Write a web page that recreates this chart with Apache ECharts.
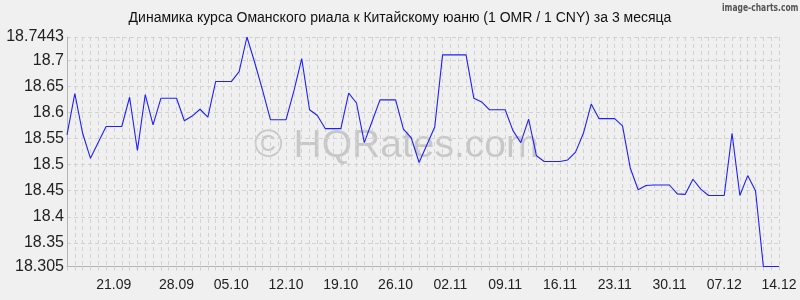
<!DOCTYPE html>
<html><head><meta charset="utf-8">
<script src="https://cdn.jsdelivr.net/npm/echarts@6/dist/echarts.min.js"></script>
<style>html,body{margin:0;padding:0;background:#f0f0f0}#c{width:800px;height:300px}</style>
</head><body><div id="c"></div>
<script>
var title = 'Динамика курса Оманского риала к Китайскому юаню (1 OMR / 1 CNY) за 3 месяца';
var dates = ['14.09','15.09','16.09','17.09','18.09','19.09','20.09','21.09','22.09','23.09','24.09','25.09','26.09','27.09','28.09','29.09','30.09',
'01.10','02.10','03.10','04.10','05.10','06.10','07.10','08.10','09.10','10.10','11.10','12.10','13.10','14.10','15.10','16.10','17.10','18.10','19.10','20.10','21.10','22.10','23.10','24.10','25.10','26.10','27.10','28.10','29.10','30.10','31.10',
'01.11','02.11','03.11','04.11','05.11','06.11','07.11','08.11','09.11','10.11','11.11','12.11','13.11','14.11','15.11','16.11','17.11','18.11','19.11','20.11','21.11','22.11','23.11','24.11','25.11','26.11','27.11','28.11','29.11','30.11',
'01.12','02.12','03.12','04.12','05.12','06.12','07.12','08.12','09.12','10.12','11.12','12.12','13.12','14.12'];
var rates = [18.557,18.636,18.560,18.512,18.543,18.573,18.573,18.573,18.629,18.527,18.634,18.576,18.627,18.627,18.627,18.584,18.593,18.606,18.591,18.659,18.659,18.659,18.678,18.7443,18.695,18.642,18.586,18.586,18.586,18.641,18.703,18.605,18.594,18.569,18.569,18.569,18.637,18.618,18.542,18.583,18.624,18.624,18.624,18.568,18.551,18.504,18.538,18.572,18.710,18.710,18.710,18.710,18.627,18.620,18.605,18.605,18.605,18.565,18.542,18.587,18.517,18.506,18.506,18.506,18.509,18.524,18.560,18.616,18.588,18.588,18.588,18.574,18.493,18.452,18.460,18.461,18.461,18.461,18.444,18.443,18.472,18.453,18.441,18.441,18.441,18.560,18.441,18.479,18.450,18.305,18.305,18.305];
var yTicks = [18.305,18.35,18.4,18.45,18.5,18.55,18.6,18.65,18.7,18.7443];
var xLabelEvery = 7;

var chart = echarts.init(document.getElementById('c'));
chart.setOption({
  backgroundColor:'#f0f0f0',
  animation:false,
  title:{text:title,left:'center',top:11,itemGap:0,padding:0,
    textStyle:{fontFamily:'Liberation Sans',fontSize:14,fontWeight:'normal',color:'#111'}},
  graphic:[
    {type:'text',left:254,top:127,silent:true,z:0,
      style:{text:'© HQRates.com',font:'39px Liberation Sans',fill:'rgba(0,0,0,0.17)'}},
    {type:'text',left:722,top:3,scaleX:0.84,silent:true,
      style:{text:'image-charts.com',font:'bold 10px "DejaVu Sans Condensed"',fill:'#555'}}
  ],
  grid:{left:67,right:21,top:37,bottom:33.5,containLabel:false},
  xAxis:{type:'category',data:dates,boundaryGap:false,
    axisLine:{show:true,lineStyle:{color:'#b4b4b4',width:1}},
    axisTick:{show:true,interval:0,length:4,lineStyle:{color:'#d0d0d0'}},
    splitLine:{show:true,interval:0,lineStyle:{color:'#d2d2d2',type:[4,3],width:1}},
    axisLabel:{interval:function(i){return i>0 && i%xLabelEvery===0;},
      fontFamily:'Liberation Sans',fontSize:14,color:'#222',margin:12,
      formatter:function(v,i){return i===xLabelEvery?'{s|'+v+'}':v;},
      rich:{s:{fontFamily:'Liberation Sans',fontSize:14,color:'#222',padding:[0,16,0,0]}}}
  },
  yAxis:{type:'value',min:18.305,max:18.7443,
    axisLine:{show:true,lineStyle:{color:'#b4b4b4',width:1}},
    axisTick:{show:false,customValues:yTicks},
    splitLine:{show:true,lineStyle:{color:'#d2d2d2',type:[4,3],width:1}},
    axisLabel:{customValues:yTicks,fontFamily:'Liberation Sans',fontSize:16,color:'#222',margin:3,
      formatter:function(v){return String(+v.toFixed(4));}}
  },
  series:[{type:'line',data:rates,symbol:'none',
    lineStyle:{color:'#1f1fff',width:1.1},itemStyle:{color:'#1f1fff'}}]
});
</script></body></html>
